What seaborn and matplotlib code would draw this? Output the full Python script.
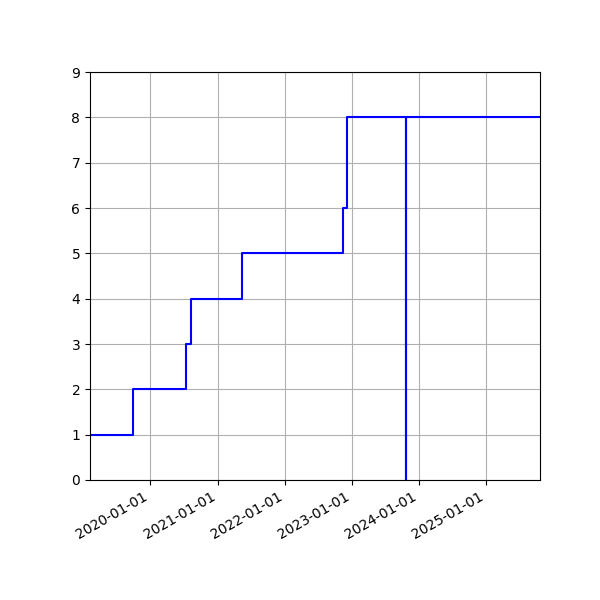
import pandas as pd
import matplotlib
matplotlib.use("Agg")
import matplotlib.pyplot as plt
import matplotlib.dates as mdates
import seaborn as sns

# step data
dates = ['2019-02-07', '2019-09-30', '2020-07-13', '2020-08-10', '2021-05-15',
         '2022-11-14', '2022-12-06', '2023-10-25', '2023-10-26', '2025-10-22']
counts = [1, 2, 3, 4, 5, 6, 8, 0, 8, 8]

df = pd.DataFrame({'date': pd.to_datetime(dates), 'count': counts})

fig, ax = plt.subplots(figsize=(6, 6), dpi=100)
sns.lineplot(data=df, x='date', y='count', ax=ax, color='blue',
             drawstyle='steps-post', linewidth=1.5)

ax.set_xlim(df['date'].min(), df['date'].max())
ax.set_ylim(0, 9)
ax.xaxis.set_major_locator(mdates.YearLocator())
ax.xaxis.set_major_formatter(mdates.DateFormatter('%Y-%m-%d'))
ax.set_xlabel('')
ax.set_ylabel('')
ax.grid(True)
fig.autofmt_xdate()
fig.subplots_adjust(left=0.15)

fig.savefig('out.png')
